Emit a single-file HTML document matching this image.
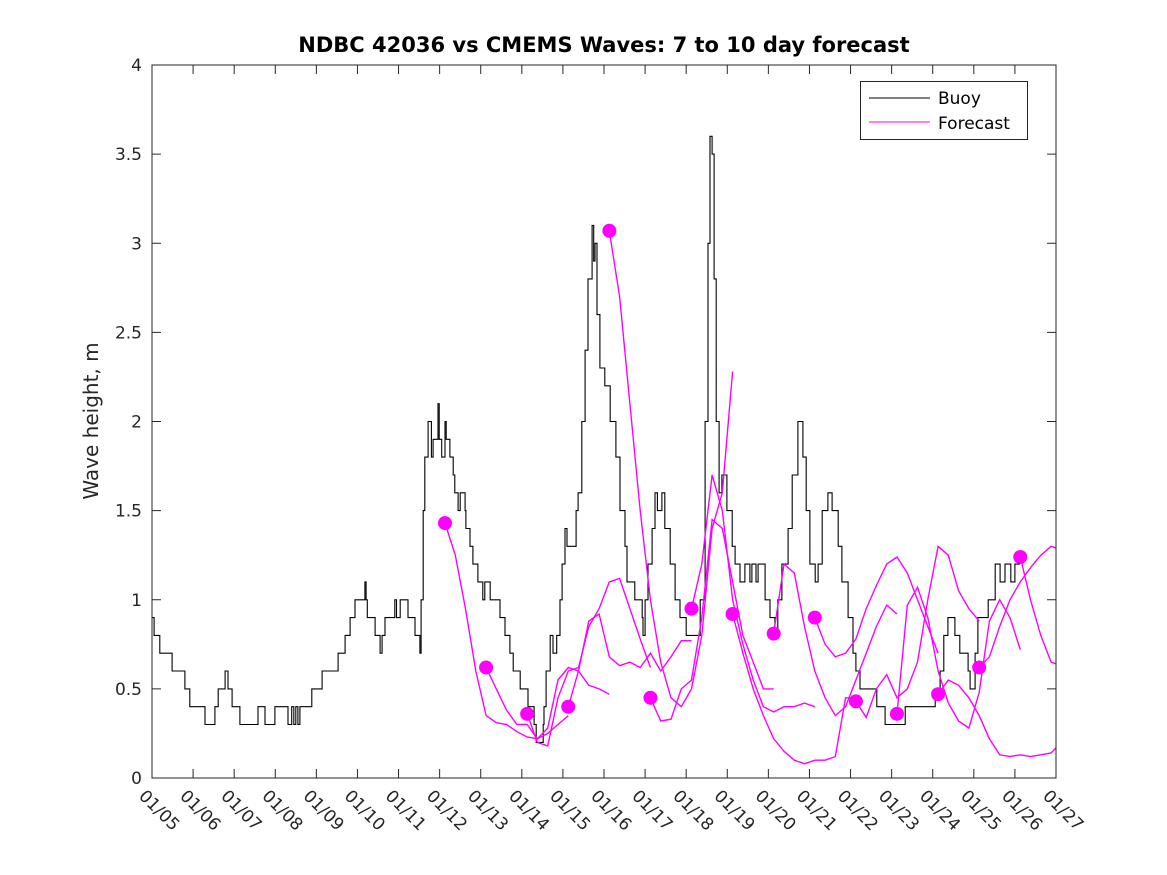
<!DOCTYPE html>
<html><head><meta charset="utf-8"><style>
body{margin:0;background:#fff}
svg{display:block;font-family:"DejaVu Sans","Liberation Sans",sans-serif}
</style></head><body>
<svg id="chart" width="1167" height="875" viewBox="0 0 1167 875" xmlns="http://www.w3.org/2000/svg">
<rect width="1167" height="875" fill="#fff"/>
<text x="604" y="52" text-anchor="middle" font-size="21" font-weight="bold" fill="#000">NDBC 42036 vs CMEMS Waves: 7 to 10 day forecast</text>
<text transform="translate(98,421) rotate(-90)" text-anchor="middle" font-size="20" fill="#262626">Wave height, m</text>
<g id="axes"></g>
<g id="series"></g>
<rect x="152" y="65" width="904" height="713" fill="none" stroke="#262626" stroke-width="1"/>
<g>
<rect x="860.5" y="81.5" width="167" height="58" fill="#fff" stroke="#262626"/>
<line x1="869" y1="98" x2="930" y2="98" stroke="#000"/>
<text x="938" y="104" font-size="17" fill="#000">Buoy</text>
<line x1="869" y1="122" x2="930" y2="122" stroke="#ff00ff"/>
<text x="938" y="129" font-size="17" fill="#000">Forecast</text>
</g>
</svg>
<script>
// x: days since 01/05
const xLabels = ["01/05","01/06","01/07","01/08","01/09","01/10","01/11","01/12","01/13","01/14","01/15","01/16","01/17","01/18","01/19","01/20","01/21","01/22","01/23","01/24","01/25","01/26","01/27"];
const yTicks = [0,0.5,1,1.5,2,2.5,3,3.5,4];
const yTickLabels = ["0","0.5","1","1.5","2","2.5","3","3.5","4"];
// buoy step series: start day, value
const buoyDays = [0,0.05,0.19,0.49,0.80,0.92,1.29,1.53,1.61,1.78,1.85,1.95,2.14,2.58,2.75,2.99,3.31,3.40,3.45,3.50,3.55,3.60,3.89,4.14,4.53,4.70,4.82,4.94,5.18,5.21,5.24,5.43,5.55,5.60,5.67,5.91,5.95,6.04,6.23,6.40,6.52,6.55,6.60,6.64,6.72,6.80,6.84,6.96,6.99,7.05,7.13,7.16,7.25,7.33,7.37,7.45,7.50,7.62,7.64,7.74,7.81,7.93,8.05,8.10,8.23,8.47,8.59,8.71,8.79,8.96,9.15,9.30,9.35,9.52,9.54,9.59,9.69,9.76,9.85,9.93,9.98,10.05,10.10,10.32,10.37,10.46,10.54,10.61,10.71,10.75,10.78,10.83,10.90,11.02,11.15,11.29,11.39,11.51,11.56,11.75,11.93,11.95,12.0,12.07,12.17,12.24,12.30,12.41,12.48,12.61,12.73,12.85,13.00,13.34,13.46,13.53,13.58,13.63,13.68,13.73,13.80,13.87,13.99,14.12,14.19,14.31,14.43,14.55,14.60,14.70,14.75,14.92,15.04,15.16,15.23,15.33,15.48,15.58,15.72,15.84,15.92,16.01,16.14,16.21,16.31,16.45,16.55,16.70,16.79,16.94,17.06,17.13,17.23,17.64,17.84,18.33,19.06,19.18,19.27,19.37,19.54,19.66,19.86,19.91,20.03,20.10,20.35,20.52,20.64,20.76,20.90,21.00,21.12,21.25];
const buoyVals = [0.9,0.8,0.7,0.6,0.5,0.4,0.3,0.4,0.5,0.6,0.5,0.4,0.3,0.4,0.3,0.4,0.3,0.4,0.3,0.4,0.3,0.4,0.5,0.6,0.7,0.8,0.9,1.0,1.1,1.0,0.9,0.8,0.7,0.8,0.9,1.0,0.9,1.0,0.9,0.8,0.7,1.0,1.5,1.8,2.0,1.8,1.9,2.1,1.9,1.8,2.0,1.9,1.8,1.7,1.6,1.5,1.6,1.5,1.4,1.3,1.2,1.1,1.0,1.1,1.0,0.9,0.8,0.7,0.6,0.5,0.4,0.3,0.2,0.3,0.4,0.6,0.8,0.7,0.8,1.0,1.2,1.4,1.3,1.5,1.6,2.0,2.4,2.8,3.1,2.9,3.0,2.6,2.3,2.2,2.0,1.8,1.5,1.3,1.1,1.0,0.9,0.8,1.0,1.2,1.4,1.6,1.5,1.6,1.4,1.2,1.0,0.9,0.8,1.0,2.0,3.0,3.6,3.5,2.8,2.0,1.6,1.7,1.5,1.3,1.2,1.1,1.2,1.1,1.2,1.1,1.2,1.0,0.9,0.8,1.0,1.2,1.4,1.7,2.0,1.8,1.5,1.2,1.1,1.2,1.5,1.6,1.5,1.3,1.1,0.9,0.7,0.6,0.5,0.4,0.3,0.4,0.5,0.6,0.8,0.9,0.8,0.7,0.6,0.5,0.7,0.9,1.0,1.2,1.1,1.2,1.1,1.2];
// forecasts: start days; values every 0.25 day
const fcStart = [7.13,8.13,9.13,10.13,11.13,12.13,13.13,14.13,15.13,16.13,17.13,18.13,19.13,20.13,21.13];
const fc0 = [1.43,1.25,0.95,0.6,0.35,0.31,0.3,0.26,0.23,0.22,0.25,0.3,0.35];
const fc1 = [0.62,0.5,0.38,0.3,0.3,0.22,0.28,0.55,0.62,0.6,0.52,0.5,0.47];
const fc2 = [0.36,0.2,0.18,0.45,0.6,0.62,0.85,0.95,1.1,1.12,0.95,0.78,0.62];
const fc3 = [0.40,0.6,0.88,0.92,0.68,0.63,0.65,0.62,0.7,0.6,0.68,0.77,0.77];
const fc4 = [3.07,2.7,2.1,1.5,1.0,0.65,0.45,0.4,0.5,0.8,1.4,1.6,2.28];
const fc5 = [0.45,0.32,0.33,0.5,0.55,0.9,1.45,1.4,1.1,0.8,0.65,0.5,0.5];
const fc6 = [0.95,1.2,1.7,1.5,1.0,0.75,0.55,0.4,0.37,0.4,0.4,0.42,0.4];
const fc7 = [0.92,0.7,0.5,0.35,0.22,0.15,0.1,0.08,0.1,0.1,0.12,0.45,0.45];
const fc8 = [0.81,1.2,1.15,0.85,0.6,0.45,0.35,0.4,0.55,0.7,0.85,0.97,0.92];
const fc9 = [0.90,0.75,0.68,0.7,0.78,0.95,1.08,1.2,1.24,1.15,1.0,0.85,0.7];
const fc10 = [0.43,0.34,0.5,0.58,0.45,0.5,0.65,1.0,1.3,1.25,1.05,0.95,0.88];
const fc11 = [0.36,0.97,1.07,0.9,0.6,0.42,0.32,0.28,0.48,0.88,1.0,0.9,0.72];
const fc12 = [0.47,0.55,0.52,0.45,0.35,0.22,0.13,0.12,0.13,0.12,0.13,0.14,0.2];
const fc13 = [0.62,0.68,0.85,1.0,1.1,1.18,1.25,1.3,1.28];
const fc14 = [1.24,1.0,0.8,0.65,0.63];
const fcVals = [fc0,fc1,fc2,fc3,fc4,fc5,fc6,fc7,fc8,fc9,fc10,fc11,fc12,fc13,fc14];

const NS="http://www.w3.org/2000/svg";
const X0=152,X1=1056,Y0=778,Y1=65,DMAX=22,VMAX=4;
function xs(d){return X0+(X1-X0)*d/DMAX;}
function ys(v){return Y0-(Y0-Y1)*v/VMAX;}
function mk(tag,attrs,parent){const e=document.createElementNS(NS,tag);for(const k in attrs)e.setAttribute(k,attrs[k]);parent.appendChild(e);return e;}
const axes=document.getElementById('axes'), series=document.getElementById('series');
xLabels.forEach((lab,i)=>{
  const x=xs(i);
  const t1=mk('line',{x1:x,y1:Y0,x2:x,y2:Y0-9,stroke:'#262626'},axes);
  
  
  const t2=mk('line',{x1:x,y1:Y1,x2:x,y2:Y1+9,stroke:'#262626'},axes);
  
  
  const tx=mk('text',{x:0,y:0,'font-size':17,fill:'#262626',transform:`translate(${x-14},${Y0+19}) rotate(45)`},axes);
  tx.textContent=lab;
  
  
});
yTicks.forEach((v,i)=>{
  const y=ys(v);
  const a=mk('line',{x1:X0,y1:y,x2:X0+9,y2:y,stroke:'#262626'},axes);
  
  
  const b=mk('line',{x1:X1,y1:y,x2:X1-9,y2:y,stroke:'#262626'},axes);
  
  
  const tx=mk('text',{x:X0-10,y:y+6,'font-size':17,fill:'#262626','text-anchor':'end'},axes);
  tx.textContent=yTickLabels[i];
  
  
});
// buoy
let d='';
buoyDays.forEach((day,i)=>{
  const x=xs(day).toFixed(1), y=ys(buoyVals[i]).toFixed(1);
  d+= (i===0?`M${x},${y}`:`V${y}`);
  const nx = i<buoyDays.length-1 ? xs(buoyDays[i+1]) : xs(day)+3;
  d+=`H${nx.toFixed(1)}`;
});
const bp=mk('path',{d:d,fill:'none',stroke:'#000','stroke-width':1.1},series);


// forecasts
const clip=mk('clipPath',{id:'pc'},mk('defs',{},series));
mk('rect',{x:X0,y:Y1,width:X1-X0,height:Y0-Y1},clip);
fcStart.forEach((s,k)=>{
  const vals=fcVals[k];
  const pts=vals.map((v,j)=>xs(s+0.25*j).toFixed(1)+','+ys(v).toFixed(1)).join(' ');
  const pl=mk('polyline',{points:pts,fill:'none',stroke:'#ff00ff','stroke-width':1.4,'clip-path':'url(#pc)'},series);
  
  
});
fcStart.forEach((s,k)=>{
  const c=mk('circle',{cx:xs(s),cy:ys(fcVals[k][0]),r:7,fill:'#ff00ff'},series);
  
  
});
</script>
</body></html>
